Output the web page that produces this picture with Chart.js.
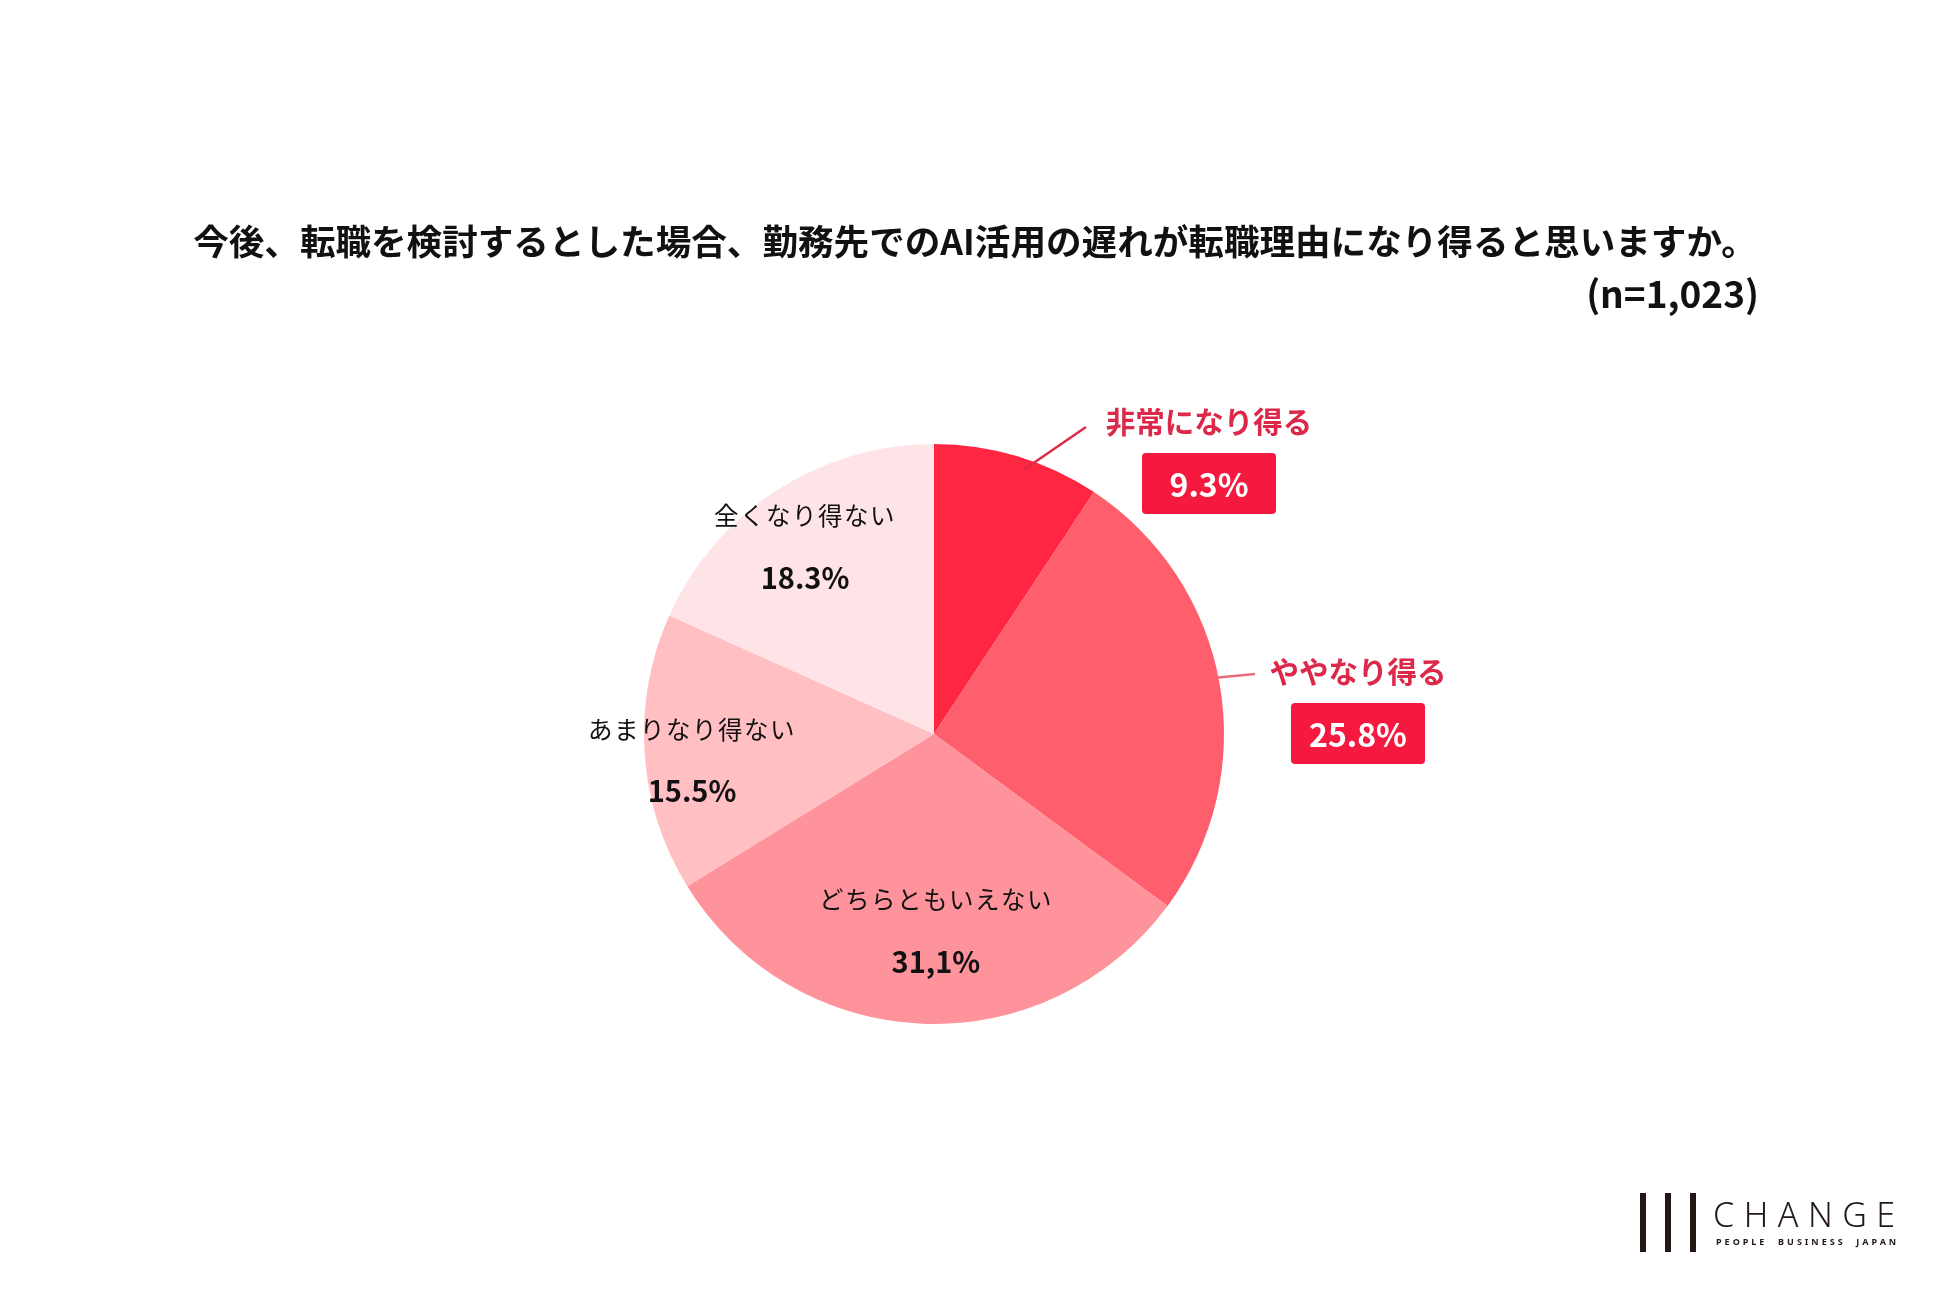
<!DOCTYPE html>
<html lang="ja">
<head>
<meta charset="utf-8">
<title>AI活用の遅れと転職理由</title>
<script src="https://cdn.jsdelivr.net/npm/chart.js@4/dist/chart.umd.min.js"></script>
<style>
  html, body { margin: 0; padding: 0; background: #fff; }
  #wrap { width: 1950px; height: 1300px; position: relative; }
</style>
</head>
<body>
<div id="wrap"><canvas id="pie" width="1950" height="1300"></canvas></div>
<script>
// データ
const categories = ['非常になり得る', 'ややなり得る', 'どちらともいえない', 'あまりなり得ない', '全くなり得ない'];
const values = [9.3, 25.8, 31.1, 15.5, 18.3];
const valueLabels = ['9.3%', '25.8%', '31,1%', '15.5%', '18.3%'];
const colors = ['#ff2642', '#ff5f6d', '#ff939c', '#ffbfc3', '#ffe4e7'];

const titleText = '今後、転職を検討するとした場合、勤務先でのAI活用の遅れが転職理由になり得ると思いますか。';
const sampleText = '(n=1,023)';

const JP = '"Noto Sans CJK JP", "Noto Sans", sans-serif';
const RED_TEXT = '#dc2849';
const RED_BOX = '#f5193f';

// ラベルの置き方: 内側 [半径の割合, 横のずれ, 縦のずれ] / 外側
const inside = { 2: [0.68, 10, 0], 3: [0.85, 4, 10], 4: [0.78, -6, 3] };
const outside = {
    0: { text: [275, -312], line: [[0.965, 0.37], [1086 - 934, 427 - 734]] },
    1: { text: [424, -62], line: [[0.99, 0.21], [1255 - 934, 674 - 734]] }
};

function roundRect(ctx, x, y, w, h, r) {
    ctx.beginPath();
    ctx.moveTo(x + r, y);
    ctx.arcTo(x + w, y, x + w, y + h, r);
    ctx.arcTo(x + w, y + h, x, y + h, r);
    ctx.arcTo(x, y + h, x, y, r);
    ctx.arcTo(x, y, x + w, y, r);
    ctx.closePath();
}

const labelPlugin = {
    id: 'labelPlugin',
    afterDraw(chart) {
        const ctx = chart.ctx;
        const meta = chart.getDatasetMeta(0);
        ctx.save();

        // タイトル
        ctx.fillStyle = '#111';
        ctx.textBaseline = 'middle';
        ctx.font = 'bold 35.6px ' + JP;
        ctx.textAlign = 'center';
        ctx.fillText(titleText, 975, 241);
        ctx.textAlign = 'right';
        ctx.font = 'bold 37px ' + JP;
        ctx.fillText(sampleText, 1759, 294);

        meta.data.forEach((arc, i) => {
            const p = arc.getProps(['x', 'y', 'startAngle', 'endAngle', 'outerRadius']);
            const mid = (p.startAngle + p.endAngle) / 2;
            const R = p.outerRadius;
            if (inside[i] !== undefined) {
                const [f, dx, dy] = inside[i];
                const cx = p.x + Math.cos(mid) * R * f + dx;
                const cy = p.y + Math.sin(mid) * R * f + dy;
                ctx.fillStyle = '#111';
                ctx.textAlign = 'center';
                ctx.font = '24.5px ' + JP;
                ctx.letterSpacing = '1.5px';
                ctx.fillText(categories[i], cx, cy - 31);
                ctx.letterSpacing = '0px';
                ctx.font = 'bold 29px ' + JP;
                ctx.fillText(valueLabels[i], cx, cy + 31);
            } else {
                const o = outside[i];
                const a = mid + o.line[0][1] * (i === 0 ? 1 : -1) * 0.1;
                const sx = p.x + Math.cos(a) * R * o.line[0][0];
                const sy = p.y + Math.sin(a) * R * o.line[0][0];
                ctx.strokeStyle = i === 0 ? '#e0284a' : '#e86a7c';
                ctx.lineWidth = 2.5;
                ctx.beginPath();
                ctx.moveTo(sx, sy);
                ctx.lineTo(p.x + o.line[1][0], p.y + o.line[1][1]);
                ctx.stroke();

                const tx = p.x + o.text[0];
                const ty = p.y + o.text[1];
                ctx.fillStyle = RED_TEXT;
                ctx.textAlign = 'center';
                ctx.font = 'bold 29.5px ' + JP;
                ctx.fillText(categories[i], tx, ty);
                ctx.fillStyle = RED_BOX;
                roundRect(ctx, tx - 67, ty + 31, 134, 61, 4);
                ctx.fill();
                ctx.fillStyle = '#fff';
                ctx.font = 'bold 32px ' + JP;
                ctx.fillText(valueLabels[i], tx, ty + 63);
            }
        });

        // ロゴ
        ctx.fillStyle = '#231815';
        [1640, 1665, 1690].forEach(x => ctx.fillRect(x, 1193, 6, 59));
        ctx.textAlign = 'left';
        ctx.textBaseline = 'alphabetic';
        ctx.font = '300 34px "Noto Sans", sans-serif';
        ctx.letterSpacing = '9.5px';
        ctx.fillText('CHANGE', 1713, 1227);
        ctx.font = 'bold 9px "Noto Sans", sans-serif';
        ctx.letterSpacing = '3px';
        ctx.fillText('PEOPLE  BUSINESS  JAPAN', 1716, 1245);
        ctx.letterSpacing = '0px';
        ctx.restore();
    }
};

new Chart(document.getElementById('pie'), {
    type: 'pie',
    data: {
        labels: categories,
        datasets: [{
            data: values,
            backgroundColor: colors,
            borderWidth: 0
        }]
    },
    options: {
        responsive: false,
        animation: false,
        layout: { padding: { top: 444, bottom: 276, left: 644, right: 726 } },
        plugins: {
            legend: { display: false },
            tooltip: { enabled: false }
        }
    },
    plugins: [labelPlugin]
});
</script>
</body>
</html>
